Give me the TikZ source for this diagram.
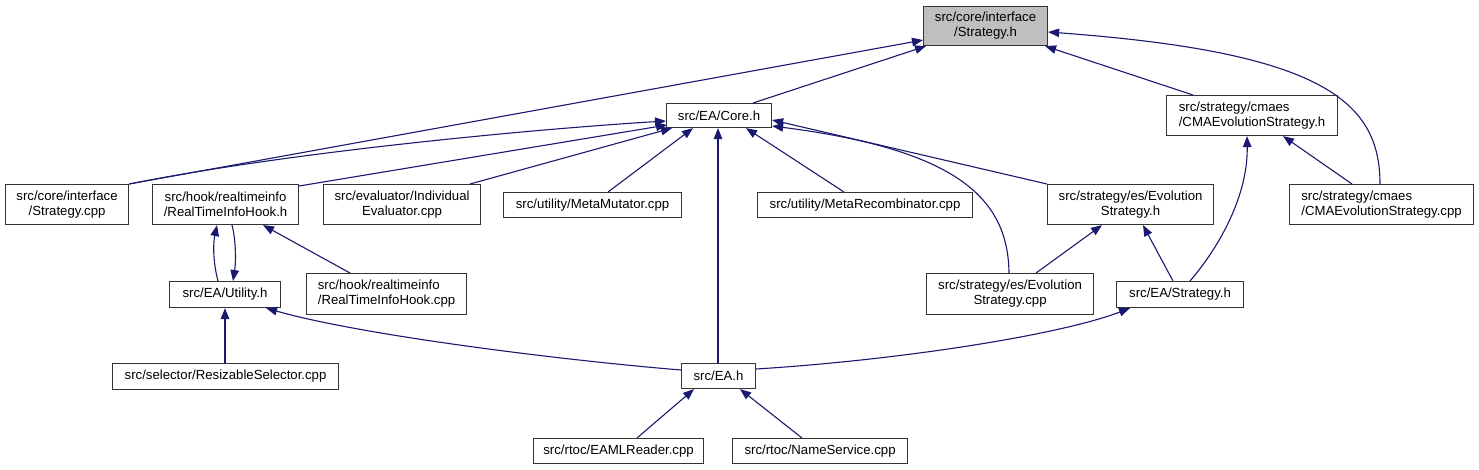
\documentclass[tikz,border=0pt]{standalone}
\usepackage{fontspec}
\setmainfont{Liberation Sans}
\usetikzlibrary{arrows.meta}
\definecolor{edgecol}{HTML}{191970}
\definecolor{boxcol}{HTML}{333333}
\definecolor{hilite}{HTML}{BFBFBF}
\begin{document}
\begin{tikzpicture}[x=1pt,y=-1pt,
  box/.style={draw=boxcol, line width=1.1pt, fill=white, inner sep=0pt, anchor=north west,
    font=\fontsize{13.2}{15}\selectfont, text=black},
  edge/.style={draw=edgecol, line width=1.1pt, -{Triangle[length=11pt,width=8.5pt]}}]
\useasboundingbox[fill=white] (0,0) rectangle (1479,469);
% nodes
\node[box, minimum width=124pt, minimum height=39pt, fill=hilite, align=center] (sh) at (923,6) {src/core/interface\\/Strategy.h};
\node[box, minimum width=105pt, minimum height=24pt] (core) at (666,103) {src/EA/Core.h};
\node[box, minimum width=171pt, minimum height=40pt, align=left] (cmah) at (1166,95) {src/strategy/cmaes\\/CMAEvolutionStrategy.h};
\node[box, minimum width=123pt, minimum height=40pt, align=center] (scpp) at (5,184) {src/core/interface\\/Strategy.cpp};
\node[box, minimum width=146pt, minimum height=40pt, align=center] (rtih) at (152,184) {src/hook/realtimeinfo\\/RealTimeInfoHook.h};
\node[box, minimum width=157pt, minimum height=40pt, align=center] (ieval) at (323,184) {src/evaluator/Individual\\Evaluator.cpp};
\node[box, minimum width=178pt, minimum height=25pt] (mmut) at (503,192) {src/utility/MetaMutator.cpp};
\node[box, minimum width=215pt, minimum height=25pt] (mrec) at (757,192) {src/utility/MetaRecombinator.cpp};
\node[box, minimum width=166pt, minimum height=40pt, align=center] (esh) at (1047,184) {src/strategy/es/Evolution\\Strategy.h};
\node[box, minimum width=184pt, minimum height=40pt, align=left] (cmacpp) at (1289,184) {src/strategy/cmaes\\/CMAEvolutionStrategy.cpp};
\node[box, minimum width=111pt, minimum height=26pt] (util) at (169,281) {src/EA/Utility.h};
\node[box, minimum width=160pt, minimum height=41pt, align=left] (rticpp) at (306,273) {src/hook/realtimeinfo\\/RealTimeInfoHook.cpp};
\node[box, minimum width=167pt, minimum height=41pt, align=center] (escpp) at (926,273) {src/strategy/es/Evolution\\Strategy.cpp};
\node[box, minimum width=127pt, minimum height=26pt] (eastr) at (1116,281) {src/EA/Strategy.h};
\node[box, minimum width=226pt, minimum height=26pt] (rsel) at (112,363) {src/selector/ResizableSelector.cpp};
\node[box, minimum width=74pt, minimum height=25pt] (eah) at (681,363) {src/EA.h};
\node[box, minimum width=170pt, minimum height=25pt] (eaml) at (533,438) {src/rtoc/EAMLReader.cpp};
\node[box, minimum width=175pt, minimum height=25pt] (names) at (732,438) {src/rtoc/NameService.cpp};
% edges into Strategy.h
\draw[edge] (scpp.north east) -- ([shift={(0,14)}]sh.west);
\draw[edge] ([shift={(87,0)}]core.north west) -- ([shift={(3,0)}]sh.south west);
\draw[edge] ([shift={(27,0)}]cmah.north west) -- ([shift={(-3,0)}]sh.south east);
\draw[edge] ([shift={(91,0)}]cmacpp.north west) .. controls (1380,100) and (1320,52) .. ([shift={(0,26)}]sh.north east);
% edges into Core.h
\draw[edge] (scpp.north east) .. controls (300,150) and (550,128) .. ([shift={(0,18)}]core.north west);
\draw[edge] ([shift={(0,2)}]rtih.north east) -- ([shift={(1,22)}]core.north west);
\draw[edge] ([shift={(147,0)}]ieval.north west) -- ([shift={(6,0)}]core.south west);
\draw[edge] ([shift={(105,0)}]mmut.north west) -- ([shift={(27,0)}]core.south west);
\draw[edge] ([shift={(37,0)}]eah.north west) -- ([shift={(52,0)}]core.south west);
\draw[edge] ([shift={(87,0)}]mrec.north west) -- ([shift={(80,0)}]core.south west);
\draw[edge] (esh.north west) -- ([shift={(0,17)}]core.north east);
\draw[edge] ([shift={(83,0)}]escpp.north west) .. controls (1008,200) and (960,150) .. ([shift={(0,23)}]core.north east);
% RealTimeInfoHook.h / Utility.h
\draw[edge] ([shift={(49,0)}]util.north west) .. controls (213,262) and (213,244) .. ([shift={(65,0)}]rtih.south west);
\draw[edge] ([shift={(80,0)}]rtih.south west) .. controls (236,240) and (236,262) .. ([shift={(64,0)}]util.north west);
\draw[edge] ([shift={(44,0)}]rticpp.north west) -- ([shift={(111,0)}]rtih.south west);
\draw[edge] ([shift={(113,0)}]rsel.north west) -- ([shift={(56,0)}]util.south west);
\draw[edge] ([shift={(0,7)}]eah.north west) .. controls (560,360) and (360,335) .. ([shift={(-15,0)}]util.south east);
% EA.h
\draw[edge] ([shift={(0,6)}]eah.north east) .. controls (900,360) and (1060,335) .. ([shift={(14,0)}]eastr.south west);
\draw[edge] ([shift={(104,0)}]eaml.north west) -- ([shift={(13,0)}]eah.south west);
\draw[edge] ([shift={(70,0)}]names.north west) -- ([shift={(59,0)}]eah.south west);
% Evolution strategy
\draw[edge] ([shift={(110,0)}]escpp.north west) -- ([shift={(55,0)}]esh.south west);
\draw[edge] ([shift={(57,0)}]eastr.north west) -- ([shift={(96,0)}]esh.south west);
% CMA
\draw[edge] ([shift={(74,0)}]eastr.north west) .. controls (1225,240) and (1248,190) .. ([shift={(81,0)}]cmah.south west);
\draw[edge] ([shift={(63,0)}]cmacpp.north west) -- ([shift={(117,0)}]cmah.south west);
\end{tikzpicture}
\end{document}
